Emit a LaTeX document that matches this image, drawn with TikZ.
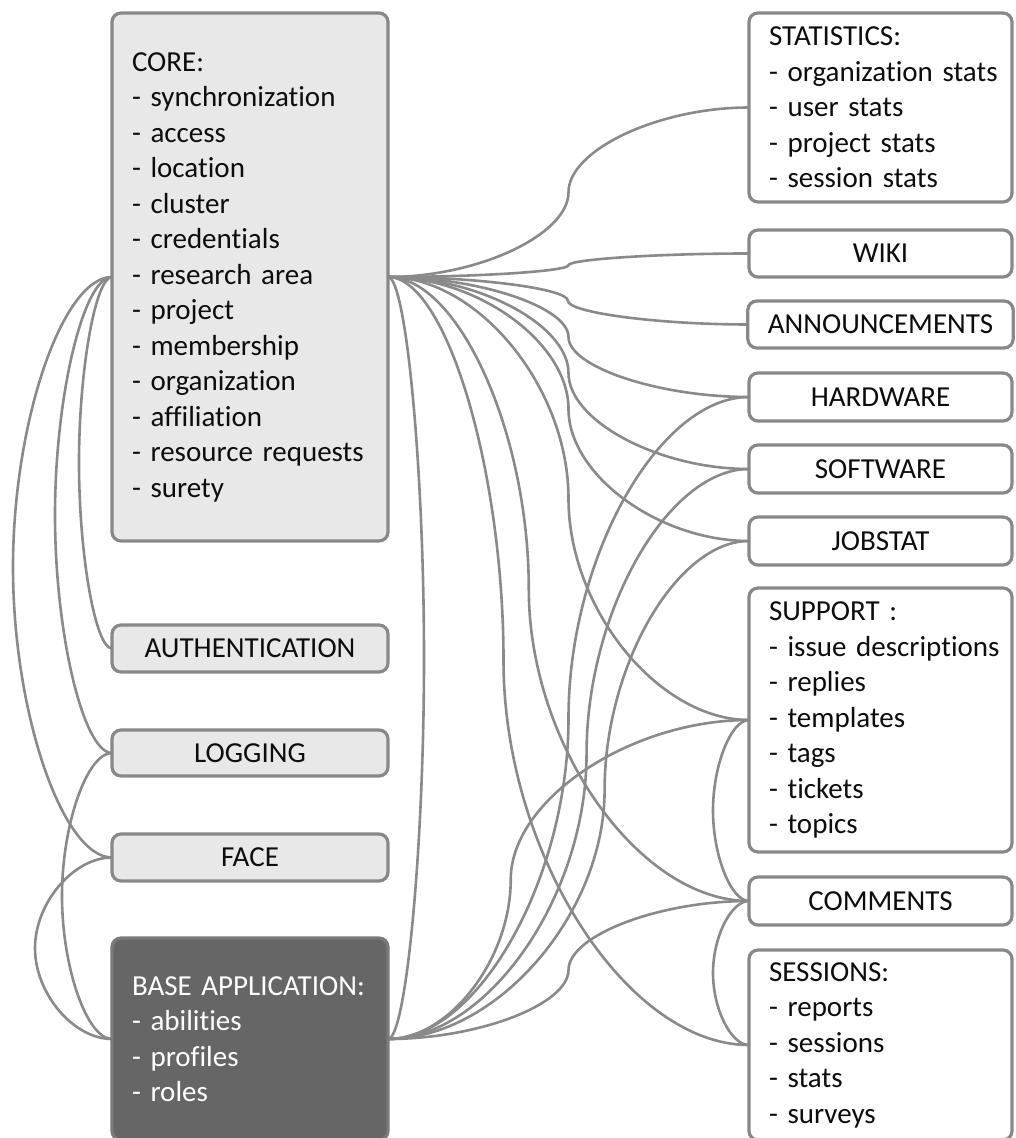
\documentclass[tikz,border=0pt]{standalone}
\usepackage{fontspec}
\setmainfont{Carlito}[Ligatures={NoCommon}]
\usetikzlibrary{calc,backgrounds}
\hyphenpenalty=10000
\exhyphenpenalty=10000
\definecolor{bord}{HTML}{888888}
\definecolor{lnk}{HTML}{8A8A8A}
\definecolor{lfill}{HTML}{E8E8E8}
\definecolor{dfill}{HTML}{666666}
\definecolor{dbord}{HTML}{7A7A7A}
\definecolor{txt}{HTML}{0D0D0D}
\tikzset{
  box/.style={draw=bord, line width=3.2pt, rounded corners=9pt, outer sep=0pt,
    inner xsep=20pt, inner ysep=0pt, text=txt,
    font=\fontsize{29}{35.5}\selectfont},
  lbox/.style={box, fill=lfill, minimum width=276pt},
  dbox/.style={box, draw=dbord, fill=dfill, text=white, minimum width=276pt},
  rbox/.style={box, fill=white, minimum width=263pt},
  list/.style={align=left, text width=#1},
  conn/.style={draw=lnk, line width=2.6pt}
}
% PowerPoint-like curved connector: horizontal at both ends, vertical at the middle (x = #3)
\newcommand\ppc[3]{%
  \draw[conn] let \p1=(#1), \p2=(#2) in
    (\p1) .. controls ({(\x1+(#3))/2},\y1) and ({#3},{\y1+(\y2-\y1)/4}) ..
    ({#3},{(\y1+\y2)/2}) .. controls ({#3},{\y1+3*(\y2-\y1)/4}) and ({((#3)+\x2)/2},\y2) .. (\p2);}
\newcommand\mixx[1]{\x1+#1*(\x2-\x1)}
\begin{document}
\begin{tikzpicture}[x=1pt,y=1pt]
\useasboundingbox (0,0) rectangle (1015,1138);
% left column
\node[lbox, list=236pt, minimum height=528pt] (core) at (250,861)
  {CORE:\\- synchronization\\- access\\- location\\- cluster\\- credentials\\- research area\\- project\\- membership\\- organization\\- affiliation\\ \mbox{- resource requests}\\- surety};
\node[lbox, minimum height=47pt] (auth) at (250,489.5) {AUTHENTICATION};
\node[lbox, minimum height=46pt] (logging) at (250,385) {LOGGING};
\node[lbox, minimum height=47pt] (face) at (250,280.5) {FACE};
\node[dbox, list=236pt, minimum height=202pt] (base) at (250,99)
  {\mbox{BASE APPLICATION:}\\- abilities\\- profiles\\- roles};
% right column
\node[rbox, list=223pt, minimum height=189pt] (stat) at (880.5,1030.5)
  {STATISTICS:\\ \mbox{- organization stats}\\- user stats\\- project stats\\- session stats};
\node[rbox, minimum height=47pt] (wiki) at (880.5,884.5) {WIKI};
\node[rbox, minimum height=47pt] (ann) at (880.5,813.5) {ANNOUNCEMENTS};
\node[rbox, minimum height=48pt] (hw) at (880.5,741) {HARDWARE};
\node[rbox, minimum height=48pt] (sw) at (880.5,669) {SOFTWARE};
\node[rbox, minimum height=48pt] (job) at (880.5,597) {JOBSTAT};
\node[rbox, list=223pt, minimum height=264pt] (support) at (880.5,418)
  {SUPPORT :\\ \mbox{- issue descriptions}\\- replies\\- templates\\- tags\\- tickets\\- topics};
\node[rbox, minimum height=48pt] (comments) at (880.5,237) {COMMENTS};
\node[rbox, list=223pt, minimum height=190pt] (sessions) at (880.5,93)
  {SESSIONS:\\- reports\\- sessions\\- stats\\- surveys};
% connectors
\begin{pgfonlayer}{background}
\ppc{core.west}{auth.west}{\x1-33pt}
\ppc{core.west}{logging.west}{\x1-57pt}
\ppc{core.west}{face.west}{\x1-99pt}
\ppc{logging.west}{base.west}{\x1-50pt}
\ppc{face.west}{base.west}{\x1-77pt}
\ppc{core.east}{stat.west}{\mixx{0.5}}
\ppc{core.east}{wiki.west}{\mixx{0.5}}
\ppc{core.east}{ann.west}{\mixx{0.5}}
\ppc{core.east}{hw.west}{\mixx{0.5}}
\ppc{core.east}{sw.west}{\mixx{0.5}}
\ppc{core.east}{job.west}{\mixx{0.5}}
\ppc{core.east}{support.west}{\mixx{0.5}}
\ppc{core.east}{comments.west}{\mixx{0.39}}
\ppc{core.east}{sessions.west}{\mixx{0.32}}
\ppc{core.east}{base.east}{\x1+36pt}
\ppc{base.east}{hw.west}{\mixx{0.5}}
\ppc{base.east}{sw.west}{\mixx{0.55}}
\ppc{base.east}{job.west}{\mixx{0.6}}
\ppc{base.east}{support.west}{\mixx{0.34}}
\ppc{base.east}{comments.west}{\mixx{0.5}}
\ppc{support.west}{comments.west}{\x1-36pt}
\ppc{comments.west}{sessions.west}{\x1-36pt}
\end{pgfonlayer}
\end{tikzpicture}
\end{document}
